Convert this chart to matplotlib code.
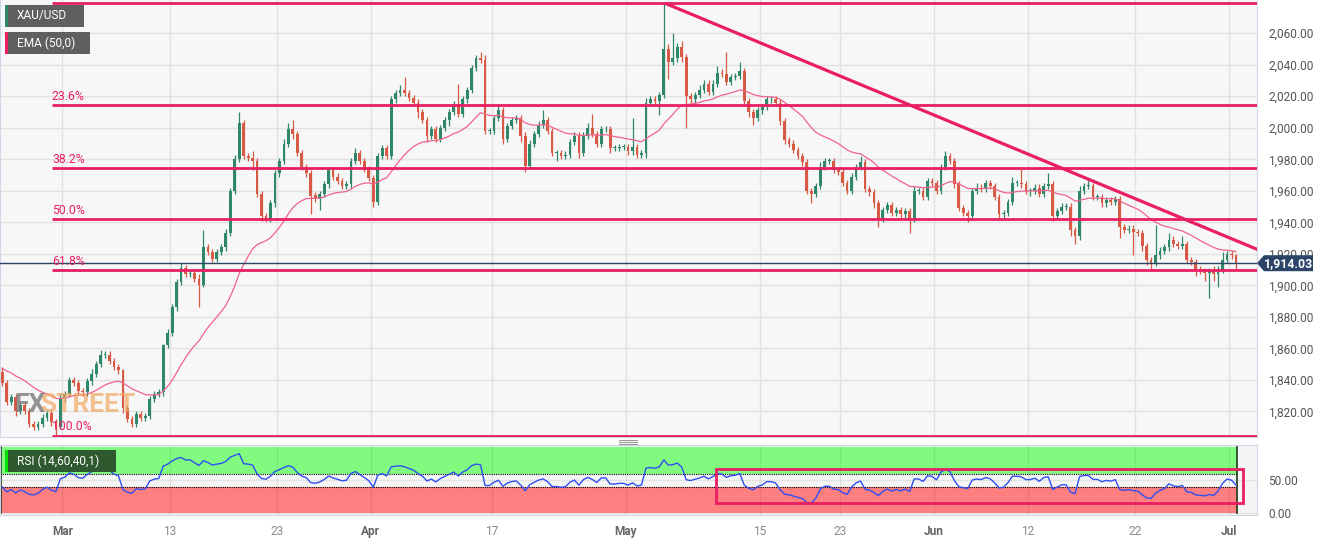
import numpy as np
import pandas as pd
import matplotlib
matplotlib.use("Agg")
import matplotlib.pyplot as plt
from matplotlib.patches import Rectangle, Polygon
from matplotlib.lines import Line2D
from matplotlib import font_manager

# ---------------- data ----------------
SYMBOL = "XAU/USD"
EMA_LABEL = "EMA (50,0)"
RSI_LABEL = "RSI (14,60,40,1)"

OPEN0 = 1845
CLOSE = [
    1838, 1826, 1829, 1820, 1824, 1820, 1812, 1810, 1812, 1816,
    1819, 1813, 1810, 1828, 1831, 1840, 1838, 1833, 1832, 1839,
    1844, 1850, 1856, 1856, 1852, 1848, 1846, 1822, 1815, 1812,
    1818, 1816, 1817, 1828, 1831, 1832, 1862, 1870, 1886, 1902,
    1911, 1907, 1908, 1904, 1900, 1924, 1921, 1917, 1921, 1924,
    1933, 1960, 1980, 2003, 1982, 1981, 1979, 1958, 1944, 1942,
    1952, 1971, 1979, 1990, 1999, 1996, 1984, 1975, 1971, 1957,
    1955, 1958, 1964, 1973, 1969, 1966, 1963, 1964, 1979, 1984,
    1979, 1974, 1968, 1953, 1982, 1987, 1982, 2018, 2022, 2024,
    2022, 2019, 2016, 2010, 2005, 1995, 1999, 1993, 2000, 2005,
    2010, 2015, 2009, 2018, 2024, 2038, 2044, 2043, 1998, 1998,
    2006, 2011, 1993, 2001, 2005, 2006, 1995, 1976, 1990, 1996,
    2002, 2005, 1998, 1984, 1984, 1982, 1983, 1991, 1995, 1984,
    1995, 2000, 1996, 1990, 1999, 1999, 1987, 1987, 1988, 1988,
    1985, 1988, 1983, 1984, 2016, 2018, 2017, 2021, 2050, 2042,
    2044, 2051, 2045, 2020, 2018, 2021, 2024, 2028, 2023, 2028,
    2035, 2034, 2029, 2032, 2033, 2036, 2017, 2010, 2006, 2011,
    2013, 2018, 2018, 2016, 2004, 1992, 1990, 1986, 1982, 1978,
    1960, 1958, 1963, 1975, 1979, 1979, 1973, 1972, 1965, 1960,
    1969, 1975, 1978, 1961, 1959, 1952, 1942, 1948, 1951, 1946,
    1948, 1945, 1947, 1942, 1960, 1960, 1956, 1966, 1965, 1960,
    1975, 1982, 1979, 1964, 1949, 1946, 1944, 1960, 1962, 1961,
    1965, 1963, 1956, 1945, 1946, 1953, 1965, 1965, 1964, 1960,
    1960, 1962, 1958, 1963, 1964, 1944, 1947, 1950, 1950, 1935,
    1931, 1960, 1963, 1963, 1956, 1956, 1952, 1954, 1953, 1955,
    1937, 1935, 1936, 1934, 1933, 1925, 1916, 1914, 1919, 1922,
    1924, 1929, 1926, 1925, 1926, 1916, 1915, 1910, 1909, 1908,
    1909, 1907, 1910, 1916, 1920, 1919, 1914.03,
]
UPPER_WICK = [
    3, 2, 2, 2, 2, 2, 2, 2, 2, 2,
    2, 2, 2, 3, 2, 2, 2, 2, 2, 2,
    3, 2, 3, 2, 2, 2, 2, 1, 2, 2,
    2, 2, 2, 2, 2, 2, 1, 2, 2, 2,
    3, 2, 2, 2, 3, 11, 2, 2, 2, 2,
    3, 2, 3, 7, 2, 2, 4, 2, 2, 2,
    2, 2, 2, 3, 4, 6, 2, 2, 2, 2,
    2, 2, 2, 2, 2, 2, 2, 2, 2, 3,
    2, 2, 2, 2, 2, 2, 2, 2, 2, 3,
    8, 2, 2, 2, 2, 2, 2, 2, 2, 2,
    2, 2, 13, 2, 2, 2, 2, 4, 3, 2,
    2, 4, 2, 2, 2, 2, 2, 2, 2, 2,
    2, 6, 2, 2, 2, 2, 2, 2, 2, 2,
    2, 3, 9, 2, 2, 2, 2, 2, 2, 2,
    2, 18, 2, 2, 3, 2, 2, 2, 29, 3,
    16, 3, 4, 2, 2, 2, 3, 2, 2, 2,
    4, 2, 14, 2, 2, 6, 2, 2, 2, 2,
    2, 2, 2, 2, 2, 2, 2, 2, 2, 2,
    2, 2, 2, 3, 2, 2, 2, 2, 2, 2,
    2, 2, 4, 2, 2, 2, 2, 2, 2, 2,
    2, 2, 2, 2, 3, 2, 2, 2, 2, 2,
    2, 3, 2, 2, 2, 2, 2, 2, 3, 2,
    2, 2, 2, 2, 2, 2, 4, 2, 9, 2,
    2, 2, 2, 2, 7, 2, 2, 2, 2, 2,
    2, 3, 2, 4, 2, 2, 2, 2, 2, 2,
    2, 2, 2, 2, 2, 2, 2, 2, 19, 2,
    2, 4, 2, 2, 5, 2, 2, 2, 2, 2,
    2, 3, 2, 5, 2, 2, 1,
]
LOWER_WICK = [
    2, 2, 2, 3, 2, 2, 2, 2, 2, 2,
    2, 2, 5, 1, 2, 2, 2, 2, 2, 2,
    2, 2, 2, 2, 2, 2, 2, 3, 2, 2,
    2, 2, 2, 2, 2, 2, 2, 2, 2, 2,
    2, 2, 2, 2, 14, 1, 2, 2, 2, 2,
    2, 2, 2, 2, 2, 2, 6, 2, 3, 2,
    2, 2, 2, 2, 2, 3, 2, 2, 2, 12,
    2, 7, 2, 2, 2, 2, 2, 2, 2, 2,
    2, 2, 2, 3, 2, 2, 2, 2, 2, 2,
    2, 2, 2, 4, 2, 4, 2, 2, 2, 2,
    4, 2, 2, 2, 2, 2, 2, 2, 2, 2,
    2, 2, 3, 2, 2, 2, 4, 4, 2, 2,
    2, 2, 2, 2, 5, 2, 2, 2, 2, 3,
    2, 2, 2, 2, 2, 2, 3, 2, 2, 2,
    2, 2, 2, 2, 3, 2, 2, 9, 2, 11,
    2, 2, 3, 20, 2, 2, 2, 2, 2, 2,
    2, 2, 2, 2, 2, 2, 2, 3, 4, 2,
    2, 2, 2, 2, 2, 2, 2, 2, 2, 2,
    2, 6, 2, 2, 2, 2, 2, 2, 2, 2,
    2, 2, 2, 2, 2, 3, 5, 2, 2, 2,
    2, 2, 2, 9, 2, 2, 2, 2, 2, 2,
    2, 2, 2, 2, 2, 2, 4, 2, 2, 2,
    2, 2, 2, 2, 2, 2, 2, 2, 2, 2,
    3, 2, 2, 2, 2, 3, 2, 2, 2, 4,
    5, 2, 2, 2, 2, 2, 2, 2, 2, 2,
    7, 2, 2, 15, 2, 3, 3, 4, 2, 2,
    2, 2, 2, 2, 2, 2, 2, 4, 2, 5,
    16, 4, 8, 2, 2, 2, 4,
]

EMA_SEED = 1848          # EMA value just before the first visible bar
EMA_SPAN = 25            # 50 four-hour bars, at 3 bars per session
RSI_PERIOD = 10          # smoothing that matches the 14 x 4h RSI at 3 bars per session
RSI_SEED_GAIN = 2.6      # average gain / loss just before the first visible bar
RSI_SEED_LOSS = 3.2
RSI_UPPER, RSI_LOWER = 60, 40

FIB_HIGH = 2079.0
FIB_LOW = 1804.6
FIB_RATIOS = [0.0, 0.236, 0.382, 0.5, 0.618, 1.0]
FIB_START_BAR = 11.1

TREND_X = [148.3, 281.0]
TREND_Y = [2079.0, 1922.5]

LAST_PRICE = 1914.03

TICK_DAYS = [0, 8, 16, 23, 32, 42, 52, 58, 65, 72, 80, 87]   # trading-day index from Mar 1
TICK_LABELS = ["Mar", "13", "23", "Apr", "17", "May", "15", "23", "Jun", "12", "22", "Jul"]
BARS_PER_DAY = 3
MAR1_BAR = 13.47

PRICE_TICKS = list(range(1820, 2061, 20))
RSI_TICKS = [0, 50]
RSI_BOX_X = [159.7, 277.6]
RSI_BOX_Y = [15.2, 67.0]

# ---------------- styling ----------------
names = {f.name for f in font_manager.fontManager.ttflist}
BASE_FONT = "Roboto" if "Roboto" in names else "DejaVu Sans"
NARROW = "Liberation Sans Narrow" if "Liberation Sans Narrow" in names else BASE_FONT
plt.rcParams["font.family"] = [BASE_FONT, "DejaVu Sans"]

GREEN = "#2f876a"
RED = "#d65a44"
PINK = "#e91e63"
EMA_COL = "#f0628f"
NAVY = "#2b4468"
SPINE = "#cfd5e5"

W, H = 1328, 540
fig = plt.figure(figsize=(W / 100, H / 100), dpi=100)
fig.patch.set_facecolor("white")


def fx(px):
    return px / W


def fy(py):
    return 1 - py / H


ax = fig.add_axes([0, fy(437), fx(1257), 437 / H])
rx = fig.add_axes([0, fy(515), fx(1257), 70 / H])

n = len(CLOSE)
x = np.arange(n)
c = np.array(CLOSE, dtype=float)
o = np.concatenate([[OPEN0], c[:-1]])
hi = np.maximum(o, c) + np.array(UPPER_WICK)
lo = np.minimum(o, c) - np.array(LOWER_WICK)
cols = np.where(c >= o, GREEN, RED)

XMIN, XMAX = -0.51, 280.7

# ---- main panel ----
ax.set_facecolor("#f7f7f7")
ax.set_xlim(XMIN, XMAX)
ax.set_ylim(1803.7, 2081.1)
ax.set_axisbelow(True)
ticks_x = [MAR1_BAR + BARS_PER_DAY * d for d in TICK_DAYS]
ax.set_xticks(ticks_x)
ax.set_xticklabels([])
ax.set_yticks(PRICE_TICKS)
ax.set_yticklabels([f"{v:,.2f}" for v in PRICE_TICKS])
ax.yaxis.tick_right()
ax.tick_params(axis="both", length=0)
ax.tick_params(axis="y", pad=8, labelsize=8.6, labelcolor="#555555")
ax.grid(True, color="#e2e2e2", alpha=1.0, lw=1)
for s in ["left", "right", "bottom"]:
    ax.spines[s].set_color(SPINE)
ax.spines["top"].set_visible(False)

ax.vlines(x, lo, hi, colors=cols, lw=0.9, zorder=3)
ax.bar(x, np.maximum(np.abs(c - o), 0.5), bottom=np.minimum(o, c), width=0.62,
       color=cols, linewidth=0, zorder=3)

ema = pd.Series(np.concatenate([[EMA_SEED], c])).ewm(span=EMA_SPAN, adjust=False).mean().values[1:]
ax.plot(x, ema, color=EMA_COL, lw=0.9, zorder=4)

for r in FIB_RATIOS:
    lvl = FIB_HIGH - r * (FIB_HIGH - FIB_LOW)
    ax.plot([FIB_START_BAR, XMAX], [lvl, lvl], color=PINK, lw=2.0, zorder=5,
            solid_capstyle="butt")
    ax.annotate(f"{r * 100:.1f}%", (FIB_START_BAR, lvl), xytext=(0, 2),
                textcoords="offset points", color=PINK, fontsize=8.8,
                va="bottom", ha="left", annotation_clip=False, zorder=6)

ax.plot(TREND_X, TREND_Y, color=PINK, lw=2.3, zorder=5, solid_capstyle="butt")
ax.axhline(LAST_PRICE, color=NAVY, lw=1.0, zorder=4)

# watermark
fig.text(fx(14), fy(412), "FX", fontsize=19, fontweight="bold", color="#7a7a7a",
         alpha=0.8, family=[NARROW, "DejaVu Sans"], va="baseline", ha="left", zorder=2)
fig.text(fx(40), fy(412), "STREET", fontsize=19, fontweight="bold", color="#f0a860",
         alpha=0.7, family=[NARROW, "DejaVu Sans"], va="baseline", ha="left", zorder=2)

# ---- RSI panel ----
rx.set_facecolor("#f5f5f5")
rx.set_xlim(XMIN, XMAX)
rx.set_ylim(-3.0, 103.5)
rx.set_axisbelow(True)
band_end = x[-1] + 0.3
rx.add_patch(Rectangle((XMIN, RSI_UPPER), band_end - XMIN, 100 - RSI_UPPER,
                       facecolor="#80fb80", edgecolor="none", zorder=0.2))
rx.add_patch(Rectangle((XMIN, 0), band_end - XMIN, RSI_LOWER,
                       facecolor="#fd7f7f", edgecolor="none", zorder=0.2))
rx.plot([XMIN, band_end], [RSI_UPPER, RSI_UPPER], color="black", lw=0.8, ls=(0, (1, 1)), zorder=2)
rx.plot([XMIN, band_end], [RSI_LOWER, RSI_LOWER], color="black", lw=0.8, ls=(0, (1, 1)), zorder=2)
rx.plot([band_end, band_end], [0, 100], color="#1a3a1a", lw=1.2, zorder=2)
rx.plot([XMIN + 0.2, XMIN + 0.2], [0, 100], color="#1a3a1a", lw=1.2, zorder=2)

delta = np.diff(np.concatenate([[OPEN0], c]))
gain = pd.Series(np.concatenate([[RSI_SEED_GAIN], np.clip(delta, 0, None)])).ewm(
    alpha=1 / RSI_PERIOD, adjust=False).mean().values[1:]
loss = pd.Series(np.concatenate([[RSI_SEED_LOSS], np.clip(-delta, 0, None)])).ewm(
    alpha=1 / RSI_PERIOD, adjust=False).mean().values[1:]
rsi = 100 - 100 / (1 + gain / np.maximum(loss, 1e-9))
rx.plot(x, rsi, color="#2f4ff0", lw=1.0, zorder=3)

rx.add_patch(Rectangle((RSI_BOX_X[0], RSI_BOX_Y[0]), RSI_BOX_X[1] - RSI_BOX_X[0],
                       RSI_BOX_Y[1] - RSI_BOX_Y[0], facecolor="none", edgecolor=PINK,
                       lw=2.0, zorder=4, clip_on=False))

rx.set_yticks(RSI_TICKS)
rx.set_yticklabels([f"{v:.2f}" for v in RSI_TICKS])
rx.yaxis.tick_right()
rx.set_xticks(ticks_x)
rx.set_xticklabels(TICK_LABELS)
rx.tick_params(axis="both", length=0)
rx.tick_params(axis="y", pad=8, labelsize=8.6, labelcolor="#555555")
rx.tick_params(axis="x", pad=7, labelsize=8.6)
for lab, txt in zip(rx.get_xticklabels(), TICK_LABELS):
    if txt.isalpha():
        lab.set_fontweight("bold")
        lab.set_color("#666666")
    else:
        lab.set_color("#8a8a8a")
rx.grid(True, color="black", alpha=0.07, lw=1)
for s in rx.spines.values():
    s.set_color(SPINE)

# ---- label boxes ----
def label_box(x0, y0, x1, y1, face, accent, text):
    fig.patches.append(Rectangle((fx(x0), fy(y1)), fx(x1) - fx(x0), fy(y0) - fy(y1),
                                 transform=fig.transFigure, facecolor=face,
                                 edgecolor="none", zorder=10))
    fig.patches.append(Rectangle((fx(x0), fy(y1)), fx(3), fy(y0) - fy(y1),
                                 transform=fig.transFigure, facecolor=accent,
                                 edgecolor="none", zorder=11))
    fig.text(fx(x0 + 12), fy((y0 + y1) / 2), text, color="white", fontsize=8.6,
             va="center", ha="left", zorder=12)


label_box(5, 5, 84, 27, "#5f5f5f", "#2f876a", SYMBOL)
label_box(5, 32, 90, 54, "#5f5f5f", PINK, EMA_LABEL)
label_box(5, 450, 116, 472, "#2f5a2f", "#00e000", RSI_LABEL)

# price tag
py = 263.2
tag = Polygon([(fx(1257), fy(py)), (fx(1264), fy(py - 8)), (fx(1313), fy(py - 8)),
               (fx(1313), fy(py + 8)), (fx(1264), fy(py + 8))],
              closed=True, transform=fig.transFigure, facecolor=NAVY, edgecolor="none", zorder=10)
fig.patches.append(tag)
fig.text(fx(1288.5), fy(py), f"{LAST_PRICE:,.2f}", color="white", fontsize=8.8,
         fontweight="bold", va="center", ha="center", zorder=11)

# panel separator handle
for yy in (439.5, 441.5, 443.5):
    fig.add_artist(Line2D([fx(619), fx(637)], [fy(yy), fy(yy)], color="#9a9a9a", lw=0.8))

fig.savefig("out.png", dpi=100)
